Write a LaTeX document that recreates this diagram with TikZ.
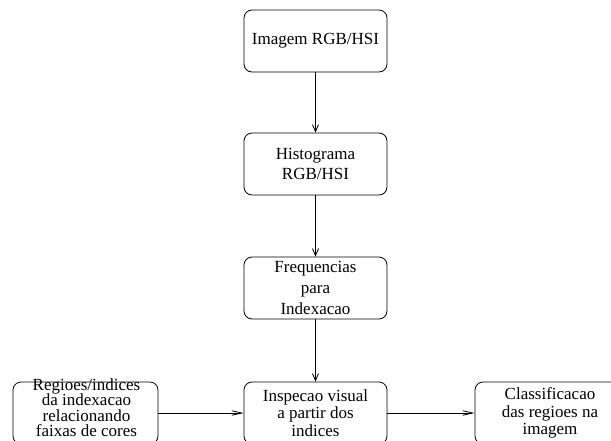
\documentclass[tikz,border=0pt]{standalone}
\usepackage{fontspec}
\setmainfont{Liberation Serif}
\usetikzlibrary{arrows.meta}
\begin{document}
\begin{tikzpicture}[x=1pt,y=-1pt,
  box/.style={draw,rounded corners=8pt,line width=0.8pt,minimum width=143pt,minimum height=62pt,inner sep=0pt,align=center},
  txt/.style={inner sep=0pt,align=center},
  conn/.style={line width=0.8pt,-{Straight Barb[length=7pt,width=6pt]}},
  hconn/.style={line width=0.8pt,-{Straight Barb[length=10pt,width=4.5pt]}}]
\useasboundingbox (0,0) rectangle (611,440);
\clip (0,0) rectangle (611,440);
\node[box,font=\fontsize{17}{20}\selectfont] (a) at (315.5,41) {Imagem RGB/HSI};
\node[box,font=\fontsize{17}{20}\selectfont] (b) at (315.5,164) {Histograma\\RGB/HSI};
\node[box,font=\fontsize{17}{21}\selectfont] (c) at (315.5,288) {Frequencias\\para\\Indexacao};
\node[box,font=\fontsize{17}{17.5}\selectfont] (e) at (315.5,413) {Inspecao visual\\a partir dos\\indices};
\node[box,minimum width=145pt] (d) at (85.5,413) {};
\node[txt,font=\fontsize{17}{15.5}\selectfont] (dt) at (86.5,407.5) {Regioes/indices\\da indexacao\\relacionando\\faixas de cores};
\node[box,minimum width=150pt,font=\fontsize{17}{17.5}\selectfont] (f) at (550,413) {Classificacao\\das regioes na\\imagem};
\draw[conn] (a) -- (b);
\draw[conn] (b) -- (c);
\draw[conn] (c) -- (e);
\draw[hconn] (d) -- (e);
\draw[hconn] (e) -- (f);
\end{tikzpicture}
\end{document}
